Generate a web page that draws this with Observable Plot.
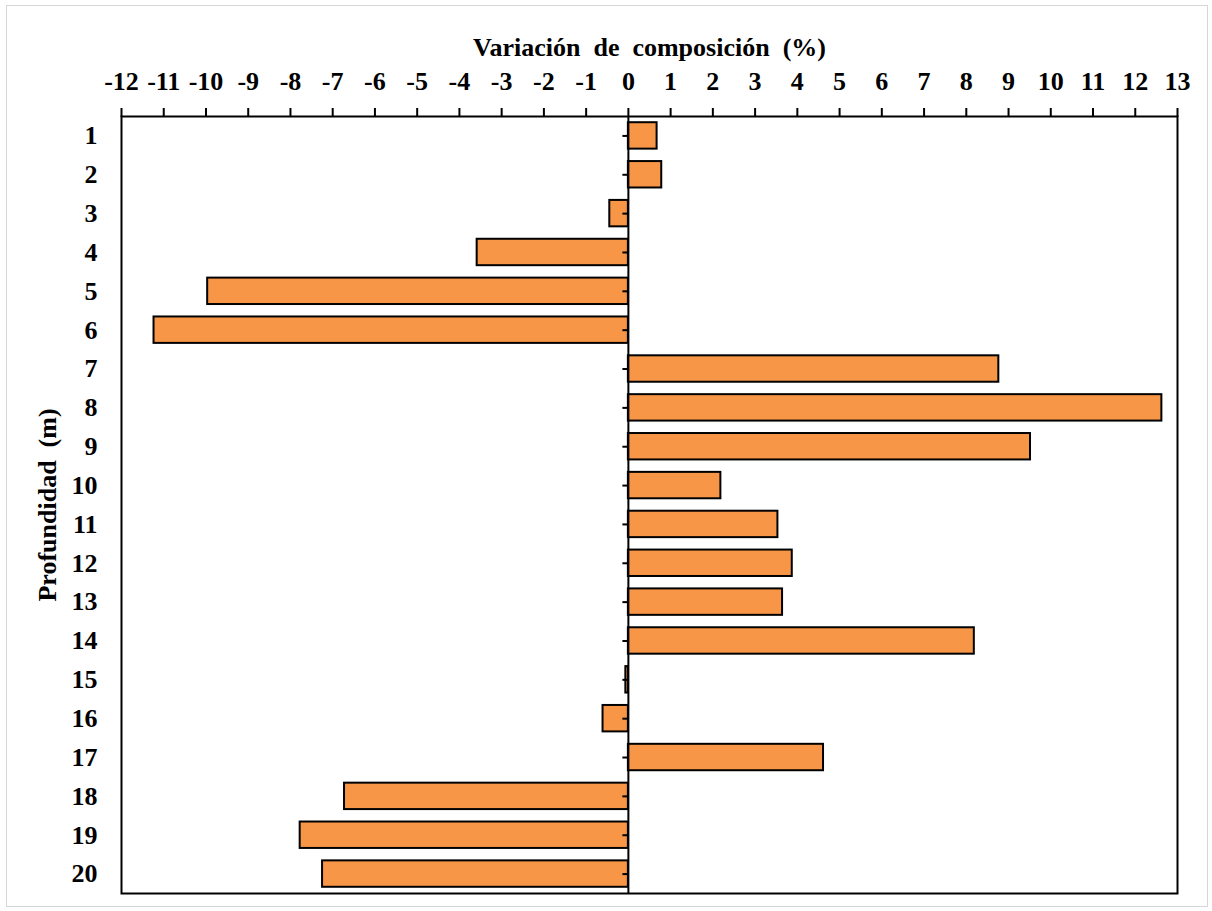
<!DOCTYPE html>
<html>
<head>
<meta charset="utf-8">
<script src="https://cdn.jsdelivr.net/npm/d3@7"></script>
<script src="https://cdn.jsdelivr.net/npm/@observablehq/plot@0.6"></script>
<style>
  html, body { margin: 0; padding: 0; background: #fff; }
  #wrap { position: relative; width: 1212px; height: 911px; }
  #border { position: absolute; left: 6px; top: 5px; width: 1200px; height: 900px; border: 1px solid #d6d6d6; pointer-events: none; }
</style>
</head>
<body>
<div id="wrap"><div id="border"></div></div>
<script>
const depths = [1, 2, 3, 4, 5, 6, 7, 8, 9, 10, 11, 12, 13, 14, 15, 16, 17, 18, 19, 20];
const variation = [0.68, 0.79, -0.44, -3.58, -9.96, -11.23, 8.77, 12.63, 9.52, 2.19,
                   3.54, 3.88, 3.65, 8.19, -0.06, -0.60, 4.62, -6.72, -7.77, -7.24];
const xTicks = [-12, -11, -10, -9, -8, -7, -6, -5, -4, -3, -2, -1, 0, 1, 2, 3, 4, 5, 6, 7, 8, 9, 10, 11, 12, 13];
const xTitle = "Variación\u00a0 de\u00a0 composición\u00a0 (%)";
const yTitle = "Profundidad\u00a0 (m)";

const data = depths.map((d, i) => ({depth: d, value: variation[i]}));

const chart = Plot.plot({
  width: 1212,
  height: 911,
  marginLeft: 121,
  marginRight: 35,
  marginTop: 116,
  marginBottom: 18,
  style: {fontFamily: "'Liberation Serif', 'Times New Roman', serif", fontSize: "26px", fontWeight: "bold", color: "black", background: "white"},
  x: {domain: [-12, 13]},
  y: {domain: depths, paddingInner: 0.32, paddingOuter: 0.16, round: false},
  marks: [
    Plot.barX(data, {x: "value", y: "depth", fill: "#F79646", stroke: "black", strokeWidth: 2}),
    Plot.ruleX([0], {stroke: "black", strokeWidth: 2}),
    Plot.ruleY(data, {y: "depth", x1: 0, x2: -0.13, stroke: "black", strokeWidth: 2}),
    Plot.frame({stroke: "black", strokeWidth: 2}),
    Plot.axisX({anchor: "top", ticks: xTicks, tickSize: 9, tickPadding: 18, tickFormat: d => String(d), label: null, strokeWidth: 2}),
    Plot.axisY({anchor: "left", tickSize: 0, tickPadding: 24, label: null}),
    Plot.text([xTitle], {frameAnchor: "top", dy: -69, text: d => d, textAnchor: "middle", lineAnchor: "middle", fontSize: 26, fontWeight: "bold", fill: "black"}),
    Plot.text([yTitle], {frameAnchor: "left", dx: -74, rotate: -90, text: d => d, textAnchor: "middle", lineAnchor: "middle", fontSize: 26, fontWeight: "bold", fill: "black"})
  ]
});
document.getElementById("wrap").prepend(chart);
</script>
</body>
</html>
